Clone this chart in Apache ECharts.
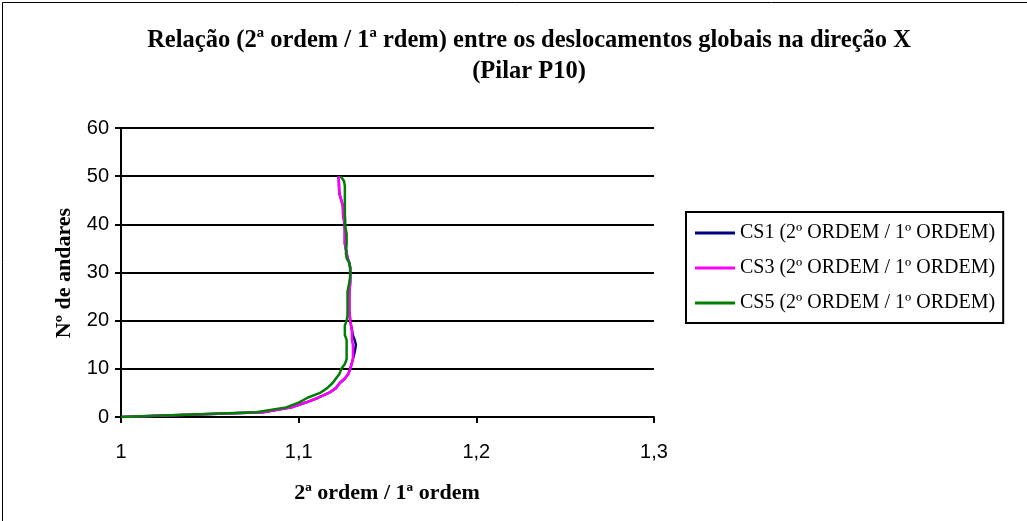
<!DOCTYPE html>
<html>
<head>
<meta charset="utf-8">
<script src="https://cdn.jsdelivr.net/npm/echarts@6/dist/echarts.min.js"></script>
<style>
  html, body { margin: 0; padding: 0; background: #fff; }
  #chart { width: 1027px; height: 521px; }
</style>
</head>
<body>
<div id="chart"></div>
<script>
// Floors (Nº de andares)
const floors = [
  0, 1, 2, 3, 4, 5, 6, 7, 8, 9,
  10, 11, 12, 13, 14, 15, 16, 17, 18, 19,
  20, 21, 22, 23, 24, 25, 26, 27, 28, 29,
  30, 31, 32, 33, 34, 35, 36, 37, 38, 39,
  40, 41, 42, 43, 44, 45, 46, 47, 48, 49, 50
];

// 2nd order / 1st order displacement ratio per floor
const cs1 = [
  1.000, 1.080, 1.096, 1.104, 1.111, 1.117, 1.121, 1.123, 1.126, 1.128,
  1.129, 1.1298, 1.1305, 1.1312, 1.1318, 1.1322, 1.1315, 1.1305, 1.130, 1.1295,
  1.129, 1.1288, 1.1285, 1.1285, 1.1285, 1.1285, 1.1285, 1.1288, 1.129, 1.129,
  1.129, 1.129, 1.1285, 1.1275, 1.127, 1.1265, 1.126, 1.126, 1.126, 1.126,
  1.1258, 1.1255, 1.125, 1.125, 1.1248, 1.124, 1.1232, 1.1228, 1.1227, 1.1226, 1.1225
];
const cs3 = [
  1.000, 1.080, 1.096, 1.104, 1.111, 1.117, 1.121, 1.123, 1.126, 1.128,
  1.129, 1.1298, 1.1305, 1.1306, 1.1306, 1.1305, 1.130, 1.130, 1.130, 1.1295,
  1.129, 1.1288, 1.1285, 1.1285, 1.1285, 1.1285, 1.1285, 1.1288, 1.129, 1.129,
  1.129, 1.129, 1.1285, 1.1275, 1.127, 1.1265, 1.126, 1.126, 1.126, 1.126,
  1.1258, 1.1255, 1.125, 1.125, 1.1248, 1.124, 1.1232, 1.1228, 1.1227, 1.1226, 1.1225
];
const cs5 = [
  1.000, 1.076, 1.093, 1.100, 1.105, 1.112, 1.116, 1.119, 1.121, 1.123,
  1.124, 1.126, 1.127, 1.127, 1.127, 1.127, 1.127, 1.126, 1.126, 1.126,
  1.127, 1.1275, 1.1275, 1.1275, 1.1275, 1.1275, 1.1275, 1.128, 1.1285, 1.129,
  1.129, 1.129, 1.1285, 1.127, 1.1266, 1.1268, 1.127, 1.127, 1.127, 1.1265,
  1.1262, 1.1262, 1.126, 1.126, 1.126, 1.126, 1.126, 1.126, 1.126, 1.1255, 1.1236
];

const seriesNames = [
  'CS1 (2º ORDEM / 1º ORDEM)',
  'CS3 (2º ORDEM / 1º ORDEM)',
  'CS5 (2º ORDEM / 1º ORDEM)'
];
const seriesColors = ['#000080', '#ff00ff', '#008000'];
const seriesValues = [cs1, cs3, cs5];

const titleLines = [
  'Relação (2ª ordem / 1ª rdem) entre os deslocamentos globais na direção X',
  '(Pilar P10)'
];
const xAxisName = '2ª ordem / 1ª ordem';
const yAxisName = 'Nº de andares';

const serif = '"Liberation Serif", "Times New Roman", serif';
const sans = '"Liberation Sans", Arial, sans-serif';

const chart = echarts.init(document.getElementById('chart'), null, { renderer: 'canvas' });

chart.setOption({
  backgroundColor: '#ffffff',
  animation: false,
  grid: { left: 121, right: 373, top: 128, bottom: 104, containLabel: false },
  xAxis: {
    type: 'value',
    min: 1,
    max: 1.3,
    interval: 0.1,
    axisLine: { show: true, lineStyle: { color: '#000', width: 2 } },
    axisTick: { show: true, length: 6, lineStyle: { color: '#000', width: 2 } },
    splitLine: { show: false },
    axisLabel: {
      color: '#000', fontFamily: sans, fontSize: 20, margin: 25,
      formatter: v => (Math.round(v * 10) / 10).toString().replace('.', ',')
    }
  },
  yAxis: {
    type: 'value',
    min: 0,
    max: 60,
    interval: 10,
    axisLine: { show: true, lineStyle: { color: '#000', width: 2 } },
    axisTick: { show: true, length: 6, lineStyle: { color: '#000', width: 2 } },
    splitLine: { show: true, lineStyle: { color: '#000', width: 2 } },
    axisLabel: { color: '#000', fontFamily: sans, fontSize: 20, margin: 12 }
  },
  legend: {
    orient: 'vertical',
    left: 686,
    top: 212,
    padding: [11, 8, 10, 9],
    itemGap: 15,
    itemWidth: 40,
    itemHeight: 3,
    borderColor: '#000',
    borderWidth: 2,
    backgroundColor: '#fff',
    textStyle: { color: '#000', fontFamily: serif, fontSize: 20, lineHeight: 20 },
    data: seriesNames.map(n => ({ name: n, icon: 'rect' }))
  },
  series: seriesValues.map((vals, i) => ({
    name: seriesNames[i],
    type: 'line',
    showSymbol: false,
    symbol: 'none',
    smooth: false,
    color: seriesColors[i],
    lineStyle: { color: seriesColors[i], width: 2.5 },
    data: floors.map((f, k) => [vals[k], f])
  })),
  graphic: [
    {
      type: 'rect', left: 0, top: 0, silent: true,
      shape: { x: 0.5, y: 0.5, width: 1026, height: 520 },
      style: { fill: 'none', stroke: '#000', lineWidth: 1 }
    },
    {
      type: 'text', x: 529, y: 41,
      style: { text: titleLines[0], fill: '#000', font: 'bold 24.5px ' + serif, textAlign: 'center', textVerticalAlign: 'middle' }
    },
    {
      type: 'text', x: 529, y: 72,
      style: { text: titleLines[1], fill: '#000', font: 'bold 24.5px ' + serif, textAlign: 'center', textVerticalAlign: 'middle' }
    },
    {
      type: 'text', x: 387, y: 493,
      style: { text: xAxisName, fill: '#000', font: 'bold 22px ' + serif, textAlign: 'center', textVerticalAlign: 'middle' }
    },
    {
      type: 'text', x: 64, y: 273, rotation: Math.PI / 2,
      style: { text: yAxisName, fill: '#000', font: 'bold 22px ' + serif, textAlign: 'center', textVerticalAlign: 'middle' }
    }
  ]
});
</script>
</body>
</html>
